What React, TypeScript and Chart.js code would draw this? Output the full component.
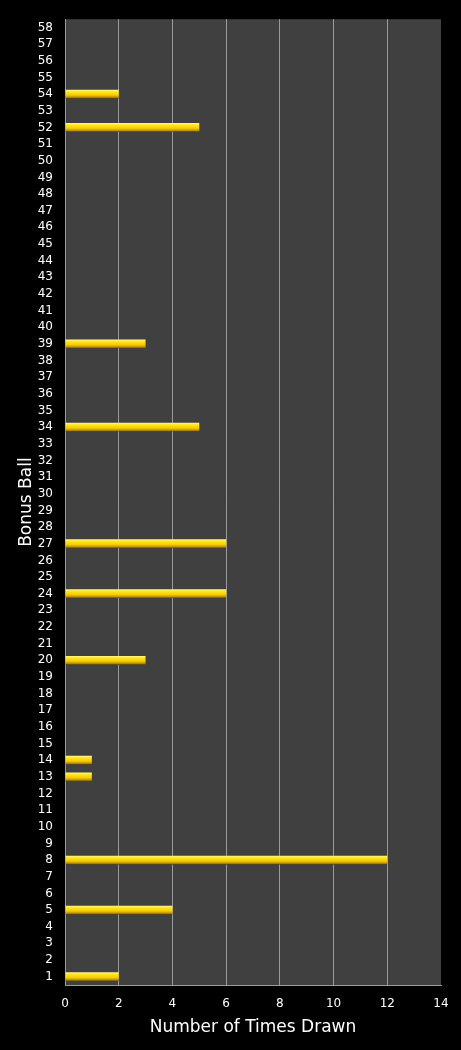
import React, { useEffect, useRef } from "react";
import { Chart, registerables } from "chart.js";

Chart.register(...registerables);

const categories: string[] = [
  "1", "2", "3", "4", "5", "6", "7", "8", "9", "10",
  "11", "12", "13", "14", "15", "16", "17", "18", "19", "20",
  "21", "22", "23", "24", "25", "26", "27", "28", "29", "30",
  "31", "32", "33", "34", "35", "36", "37", "38", "39", "40",
  "41", "42", "43", "44", "45", "46", "47", "48", "49", "50",
  "51", "52", "53", "54", "55", "56", "57", "58",
];

const timesDrawn: number[] = [
  2, 0, 0, 0, 4, 0, 0, 12, 0, 0,
  0, 0, 1, 1, 0, 0, 0, 0, 0, 3,
  0, 0, 0, 6, 0, 0, 6, 0, 0, 0,
  0, 0, 0, 5, 0, 0, 0, 0, 3, 0,
  0, 0, 0, 0, 0, 0, 0, 0, 0, 0,
  0, 5, 0, 2, 0, 0, 0, 0,
];

const xTicks: number[] = [0, 2, 4, 6, 8, 10, 12, 14];

const FONT = "'DejaVu Sans', Verdana, sans-serif";

const bgPlugin = {
  id: "bgPlugin",
  beforeDraw(chart: any) {
    const { ctx, chartArea, width, height } = chart;
    ctx.save();
    ctx.fillStyle = "#000000";
    ctx.fillRect(0, 0, width, height);
    if (chartArea) {
      ctx.fillStyle = "#404040";
      ctx.fillRect(
        chartArea.left,
        chartArea.top,
        chartArea.right - chartArea.left,
        chartArea.bottom - chartArea.top
      );
    }
    ctx.restore();
  },
};

export default function App() {
  const canvasRef = useRef<HTMLCanvasElement | null>(null);

  useEffect(() => {
    document.body.style.margin = "0";
    document.body.style.background = "#000";
    const canvas = canvasRef.current;
    if (!canvas) return;

    const chart = new Chart(canvas, {
      type: "bar",
      data: {
        labels: categories,
        datasets: [
          {
            label: "Number of Times Drawn",
            data: timesDrawn,
            backgroundColor: (ctx: any) => {
              const c = ctx.chart;
              const ys = c.scales && c.scales.y;
              if (!ys || !c.chartArea) return "#FFD700";
              const y = ys.getPixelForValue(ctx.dataIndex);
              const g = c.ctx.createLinearGradient(0, y - 4.4, 0, y + 4.4);
              g.addColorStop(0, "#fff4a0");
              g.addColorStop(0.25, "#ffe619");
              g.addColorStop(0.6, "#f5cc00");
              g.addColorStop(0.85, "#c09200");
              g.addColorStop(1, "#5e4700");
              return g;
            },
            borderWidth: 0,
            barPercentage: 0.53,
            categoryPercentage: 1,
          },
        ],
      },
      options: {
        indexAxis: "y",
        animation: false,
        responsive: false,
        maintainAspectRatio: false,
        layout: { padding: { top: 17, right: 20, bottom: 0, left: 0 } },
        plugins: {
          legend: { display: false },
          tooltip: { enabled: false },
        },
        scales: {
          x: {
            type: "linear",
            min: 0,
            max: 14,
            afterBuildTicks: (scale: any) => {
              scale.ticks = xTicks.map((v) => ({ value: v }));
            },
            afterFit: (scale: any) => {
              scale.height = 65;
            },
            grid: {
              display: true,
              drawTicks: false,
              color: (ctx: any) =>
                ctx.tick && ctx.tick.value === 14 ? "rgba(0,0,0,0)" : "#9a9a9a",
              lineWidth: 1,
            },
            border: { display: true, color: "#9a9a9a", width: 1 },
            ticks: {
              color: "#ffffff",
              padding: 12,
              font: { family: FONT, size: 12 },
              maxRotation: 0,
            },
            title: {
              display: true,
              text: "Number of Times Drawn",
              color: "#ffffff",
              font: { family: FONT, size: 17 },
              padding: { top: 0, bottom: 12 },
            },
          },
          y: {
            type: "category",
            reverse: true,
            afterFit: (scale: any) => {
              scale.width = 65;
            },
            grid: { display: false, drawTicks: false },
            border: { display: true, color: "#9a9a9a", width: 1 },
            ticks: {
              color: "#ffffff",
              padding: 12,
              autoSkip: false,
              font: { family: FONT, size: 12 },
            },
            title: {
              display: true,
              text: "Bonus Ball",
              color: "#ffffff",
              font: { family: FONT, size: 17 },
              padding: { top: 16, bottom: 0 },
            },
          },
        },
      } as any,
      plugins: [bgPlugin],
    });

    return () => {
      chart.destroy();
    };
  }, []);

  return (
    <div style={{ width: 461, height: 1050, background: "#000" }}>
      <canvas
        ref={canvasRef}
        width={461}
        height={1050}
        style={{ display: "block", width: 461, height: 1050 }}
      />
    </div>
  );
}
